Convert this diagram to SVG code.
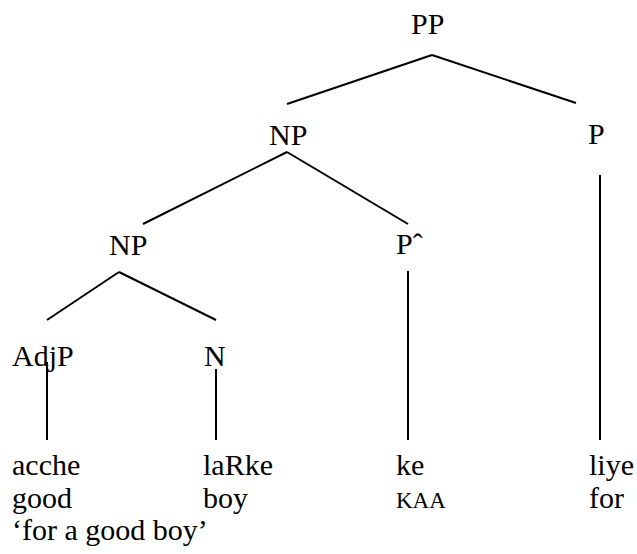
<svg xmlns="http://www.w3.org/2000/svg" width="637" height="554" viewBox="0 0 637 554">
<style>
  .t { font-size: 30px; fill: #000; }
  .sc { font-size: 23px; }
  line { stroke: #000; stroke-width: 2; stroke-linecap: butt; }
</style>
<rect width="637" height="554" fill="#fff"/>
<g id="connectors">
  <line x1="432" y1="55" x2="287" y2="104"/>
  <line x1="432" y1="55" x2="576" y2="103"/>
  <line x1="287" y1="152" x2="143" y2="224"/>
  <line x1="287" y1="152" x2="408" y2="224"/>
  <line x1="119" y1="272" x2="47" y2="320"/>
  <line x1="119" y1="272" x2="216" y2="320"/>
  <line x1="600" y1="175" x2="600" y2="440"/>
  <line x1="408" y1="271" x2="408" y2="440"/>
  <line x1="47" y1="362" x2="47" y2="440"/>
  <line x1="216" y1="369" x2="216" y2="440"/>
</g>
<g font-family="Liberation Serif, DejaVu Serif, serif" class="t">
<g id="node-PP"><text x="411" y="34">PP</text></g>
<g id="node-NP1"><text x="269" y="145">NP</text></g>
<g id="node-P"><text x="588" y="144">P</text></g>
<g id="node-NP2"><text x="109" y="255">NP</text></g>
<g id="node-Phat"><text x="396" y="254">Pˆ</text></g>
<g id="node-AdjP"><text x="12" y="366">AdjP</text></g>
<g id="node-N"><text x="204" y="366">N</text></g>
<g id="word-acche">
  <text x="12" y="475">acche</text>
  <text x="12" y="508">good</text>
</g>
<g id="word-laRke">
  <text x="203" y="475">laRke</text>
  <text x="203" y="508">boy</text>
</g>
<g id="word-ke">
  <text x="396" y="475">ke</text>
  <text class="sc" x="396" y="508">KAA</text>
</g>
<g id="word-liye">
  <text x="589" y="475">liye</text>
  <text x="589" y="508">for</text>
</g>
<g id="translation"><text x="12" y="540">‘for a good boy’</text></g>
</g>
</svg>
